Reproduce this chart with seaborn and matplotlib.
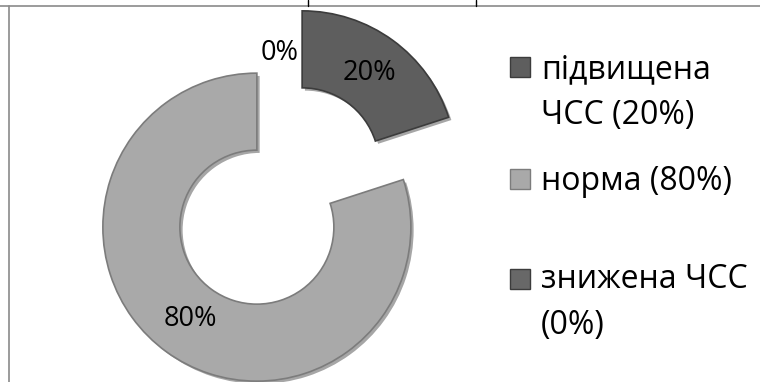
import matplotlib
matplotlib.use("Agg")
import matplotlib.pyplot as plt
import matplotlib.patheffects as pe
from matplotlib.patches import Rectangle
from matplotlib.lines import Line2D
import seaborn as sns

# Data
categories = ["підвищена ЧСС", "норма", "знижена ЧСС"]
shares = [20, 80, 0]
legend_labels = ["підвищена\nЧСС (20%)", "норма (80%)", "знижена ЧСС\n(0%)"]

# Styling
slice_colors = ["#5e5e5e", "#a9a9a9", "#686868"]
edge_colors = ["#3c3c3c", "#7c7c7c", "#3c3c3c"]
explode = [0.25, 0.25, 0.19]

sns.set_theme(style="white")
plt.rcParams["font.family"] = ["Open Sans", "DejaVu Sans"]

W, H = 760, 382
fig = plt.figure(figsize=(W / 100, H / 100), dpi=100)
fig.patch.set_facecolor("white")

# pie drawn in radius units, mapped so one unit ~ 154 px
R = 154.0
cx, cy = 279.5, 196.0
ax = fig.add_axes([0, 0, 1, 1])
wedges, texts, autotexts = ax.pie(
    shares, explode=explode, colors=slice_colors, startangle=90,
    counterclock=False, autopct="%1.0f%%", pctdistance=0.74,
    wedgeprops=dict(width=0.5, linewidth=1.2),
    textprops=dict(fontsize=19.5, color="black"),
)
for w, ec, val in zip(wedges, edge_colors, shares):
    w.set_edgecolor(ec)
    if val == 0:
        w.set_linewidth(0)
    else:
        w.set_path_effects([
            pe.SimplePatchShadow(offset=(2, -2), shadow_rgbFace="black", alpha=0.35),
            pe.Normal(),
        ])

ax.set_xlim(-cx / R, (W - cx) / R)
ax.set_ylim(-(H - cy) / R, cy / R)
ax.set_aspect("equal")
ax.axis("off")

# legend: marker sits on the first text line, text anchored at its last baseline
first_base = [78, 190, 290]
last_base = [124, 190, 334]
for lab, col, ec, b1, b2 in zip(legend_labels, slice_colors, edge_colors,
                                first_base, last_base):
    fig.text(541 / W, 1 - b2 / H, lab, fontsize=23, va="baseline", ha="left",
             linespacing=1.5, color="black")
    sq = Rectangle((510 / W, 1 - (b1 - 1) / H), 20 / W, 20 / H,
                   transform=fig.transFigure, facecolor=col, edgecolor=ec,
                   linewidth=1)
    fig.add_artist(sq)

# chart frame and the table lines above it
fig.add_artist(Line2D([0, 1], [1 - 5.5 / H] * 2, transform=fig.transFigure,
                      color="#8a8a8a", linewidth=1.2))
fig.add_artist(Line2D([9 / W] * 2, [0, 1 - 5.5 / H], transform=fig.transFigure,
                      color="#8a8a8a", linewidth=1.2))
for xt in [308, 476]:
    fig.add_artist(Line2D([xt / W] * 2, [1 - 5.5 / H, 1], transform=fig.transFigure,
                          color="black", linewidth=1))

fig.savefig("out.png", dpi=100, facecolor="white")
